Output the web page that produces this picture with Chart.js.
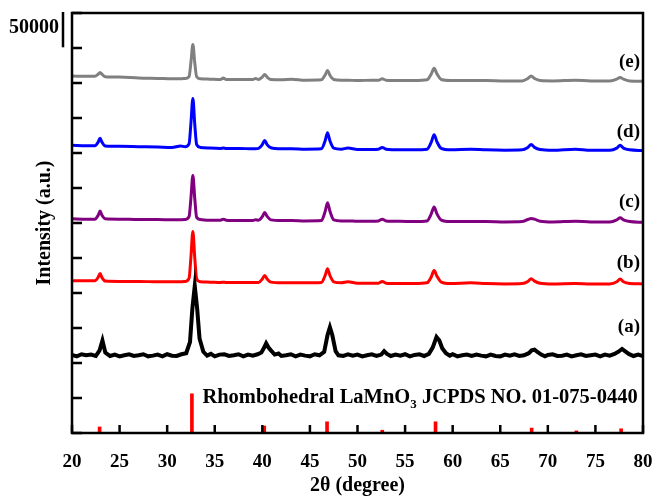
<!DOCTYPE html>
<html>
<head>
<meta charset="utf-8">
<title>XRD LaMnO3</title>
<script src="https://cdn.jsdelivr.net/npm/chart.js@4.4.1/dist/chart.umd.min.js"></script>
<style>
  html, body { margin: 0; padding: 0; background: #fff; }
  #wrap { width: 655px; height: 496px; }
</style>
</head>
<body>
<div id="wrap"><canvas id="xrd" width="655" height="496"></canvas></div>
<script>
// 2θ grid shared by the smooth patterns (b)-(e)
const xSmooth = [
  20, 21.5, 22.4, 22.75, 22.95, 23.15, 23.5, 25, 27, 29,
  30.5, 31.4, 31.9, 32.3, 32.5, 32.7, 32.9, 33.1, 33.5, 34.5,
  35.6, 35.9, 36.2, 37.5, 39.0, 39.3, 39.6, 40.0, 40.25, 40.5,
  40.9, 42.0, 43.1, 44.5, 46.2, 46.6, 46.85, 47.1, 47.5, 48.3,
  49.0, 50.0, 51.5, 52.2, 52.6, 53.0, 54.5, 56.0, 57.3, 57.75,
  58.05, 58.35, 58.8, 59.8, 61.9, 63.5, 65.5, 67.3, 67.9, 68.25,
  68.6, 69.2, 70.5, 72.9, 74.5, 76.5, 77.25, 77.6, 77.95, 78.6,
  80
];

// intensities in thousands of counts, already stacked
const sampleE = [
  510, 509.5, 509.5, 512.5, 515, 512.5, 509, 508.5, 507, 506.5,
  506, 506, 506.5, 509, 530, 555, 529, 509, 506, 505.5,
  505, 507, 505, 505, 505, 506.5, 505, 508.5, 512, 508.5,
  505, 504.5, 505.5, 504, 504.5, 511.5, 518, 511, 505, 504,
  504, 503.5, 504, 504, 506, 504, 503.5, 503.5, 504.5, 513,
  521, 513, 505, 503.5, 503.5, 503.5, 503, 503, 506.5, 510,
  506.5, 503.5, 503, 504, 503, 503, 505.5, 508, 505.5, 503,
  502.5
];
const sampleD = [
  411, 410.5, 410.5, 415.5, 421, 415.5, 410, 409.5, 409, 408.5,
  408, 410, 409, 413, 443, 478, 441, 412, 408, 407,
  406.5, 407, 406.5, 406.5, 406, 406, 406.5, 412, 418, 412,
  407.5, 406, 406, 405.5, 406, 417.5, 429, 417.5, 407, 405.5,
  407, 405, 405, 405.5, 408, 405.5, 404.5, 404.5, 405.5, 415.5,
  426, 416, 406.5, 404.5, 405.5, 404.5, 404, 404.5, 408, 412,
  408, 405, 404, 405.5, 404, 404, 407, 411, 407, 404.5,
  403.5
];
const sampleC = [
  306, 305.5, 305.5, 311, 317, 311, 306, 305.5, 305, 305,
  304.5, 304.5, 305, 309, 336, 368, 335, 308, 305, 304,
  304, 305.5, 304, 303.5, 303.5, 304.5, 304, 309, 315, 309.5,
  304.5, 303.5, 303.5, 303, 303.5, 316.5, 329, 317, 304.5, 303,
  303, 302.5, 302.5, 303, 305.5, 303, 302.5, 302, 303, 313,
  323, 313, 304, 302, 302, 302, 301.5, 302, 305, 306.5,
  305.5, 302.5, 301.5, 302.5, 301.5, 301.5, 304.5, 307.5, 304.5, 302,
  301
];
const sampleB = [
  217.5, 217.5, 217.5, 222.5, 228, 222, 217, 216.5, 216.5, 216,
  216, 216, 216.5, 221, 252, 288, 250, 220, 216, 215.5,
  215, 215.5, 215, 215, 215, 215, 215, 220, 225, 220,
  215.5, 214.5, 214.5, 214.5, 215, 225, 234.5, 225, 216, 214.5,
  216, 214, 214, 214, 216.5, 214, 213.5, 213.5, 214.5, 223,
  232, 224, 215.5, 213.5, 214.5, 213.5, 213, 213.5, 216.5, 220.5,
  217, 214, 213, 213.5, 213, 213, 216, 220, 216, 213.5,
  213
];

// pattern (a) is noisier, so it has its own denser grid
const xA = [
  20, 20.5, 21, 21.5, 22, 22.5, 22.9, 23.2, 23.5, 24,
  24.5, 25, 25.5, 26, 26.5, 27, 27.5, 28, 28.5, 29,
  29.5, 30, 30.5, 31, 31.5, 32, 32.4, 32.65, 32.9, 33.15,
  33.4, 33.8, 34.2, 34.6, 35, 35.5, 36, 36.5, 37, 37.5,
  38, 38.5, 39, 39.5, 39.9, 40.15, 40.4, 40.65, 40.9, 41.3,
  41.7, 42, 42.5, 43, 43.5, 44, 44.5, 45, 45.5, 46,
  46.5, 46.85, 47.1, 47.35, 47.7, 48, 48.5, 49, 49.5, 50,
  50.5, 51, 51.5, 52, 52.5, 52.8, 53.1, 53.5, 54, 54.5,
  55, 55.5, 56, 56.5, 57, 57.5, 57.9, 58.3, 58.6, 58.9,
  59.3, 59.7, 60, 60.5, 61, 61.5, 62, 62.5, 63, 63.5,
  64, 64.5, 65, 65.5, 66, 66.5, 67, 67.5, 68, 68.3,
  68.6, 68.9, 69.3, 69.7, 70, 70.5, 71, 71.5, 72, 72.5,
  73, 73.5, 74, 74.5, 75, 75.5, 76, 76.5, 77, 77.4,
  77.8, 78.1, 78.5, 79, 79.5, 80
];
const sampleA = [
  111.5, 109.5, 112.5, 111, 112, 110, 118, 132, 115, 110,
  112, 109.5, 111, 112.5, 110, 111, 112.5, 109.5, 110.5, 112,
  109.5, 112.5, 110.5, 110, 112.5, 114, 130, 178, 210, 178,
  135, 116, 110.5, 113, 109.5, 112, 112.5, 110, 111, 112.5,
  109.5, 112, 110.5, 112.5, 115, 121, 128, 122, 118, 112,
  113.5, 110, 111, 112.5, 109.5, 112, 110.5, 109.5, 112.5, 111,
  116, 140, 151, 140, 117, 111, 110, 112.5, 110.5, 112,
  109.5, 111, 112.5, 110, 112, 117, 113, 110, 112, 110.5,
  112.5, 109.5, 111.5, 112.5, 110, 113, 122, 137, 132, 121,
  114, 110.5, 112.5, 109.5, 111, 112, 110, 112, 110.5, 109.5,
  112, 110, 109.5, 112, 110.5, 112.5, 110, 111, 114, 118,
  119, 116, 112, 109.5, 111.5, 112.5, 110, 110.5, 112, 109.5,
  111, 112.5, 110, 111, 112, 109.5, 112, 110.5, 113, 116,
  120, 117, 113, 110, 112, 110
];

// JCPDS 01-075-0440 reference lines
const refPos = [22.9, 32.6, 40.2, 46.8, 52.6, 58.2, 68.3, 73.0, 77.7];
const refHeight = [8.6, 56, 10, 16, 4, 16, 7, 3, 6];

const curveLabels = ['(e)', '(d)', '(c)', '(b)', '(a)'];
const curveLabelY = [530, 430, 330, 243, 151];
const xTicks = [20, 25, 30, 35, 40, 45, 50, 55, 60, 65, 70, 75, 80];

const SERIF = '"Liberation Serif", "Times New Roman", serif';

function toPoints(xs, ys) {
  return xs.map((x, i) => ({ x: x, y: ys[i] }));
}

function lineSet(label, xs, ys, color, width, smooth) {
  return {
    type: 'line',
    label: label,
    data: toPoints(xs, ys),
    borderColor: color,
    borderWidth: width,
    pointRadius: 0,
    fill: false,
    cubicInterpolationMode: smooth ? 'monotone' : 'default',
    tension: 0
  };
}

// box, inward ticks and the texts inside the plot
const overlay = {
  id: 'overlay',
  afterDatasetsDraw(chart) {
    const { ctx, chartArea: a, scales: { x, y } } = chart;
    ctx.save();
    ctx.strokeStyle = '#000';
    ctx.lineWidth = 2.5;
    ctx.strokeRect(a.left, a.top, a.right - a.left, a.bottom - a.top);

    ctx.beginPath();
    x.ticks.forEach(t => {
      const px = x.getPixelForValue(t.value);
      ctx.moveTo(px, a.bottom);
      ctx.lineTo(px, a.bottom - 8);
    });
    y.ticks.forEach(t => {
      const py = y.getPixelForValue(t.value);
      ctx.moveTo(a.left, py);
      ctx.lineTo(a.left + 10, py);
    });
    ctx.stroke();

    // 50000 scale bar
    ctx.beginPath();
    ctx.moveTo(a.left - 9, y.getPixelForValue(600) - 1);
    ctx.lineTo(a.left - 9, y.getPixelForValue(551));
    ctx.stroke();

    ctx.fillStyle = '#000';
    ctx.font = 'bold 20px ' + SERIF;
    ctx.textAlign = 'right';
    ctx.textBaseline = 'middle';
    ctx.fillText('50000', a.left - 13, y.getPixelForValue(579));

    ctx.font = 'bold 19px ' + SERIF;
    curveLabels.forEach((t, i) => {
      ctx.fillText(t, a.right - 3, y.getPixelForValue(curveLabelY[i]));
    });

    // reference card caption with subscript
    ctx.font = 'bold 20.5px ' + SERIF;
    ctx.textAlign = 'left';
    ctx.textBaseline = 'alphabetic';
    let cx = x.getPixelForValue(33.7);
    const cy = y.getPixelForValue(43);
    const part1 = 'Rhombohedral LaMnO';
    ctx.fillText(part1, cx, cy);
    cx += ctx.measureText(part1).width;
    ctx.font = 'bold 13px ' + SERIF;
    ctx.fillText('3', cx, cy + 5);
    cx += ctx.measureText('3').width;
    ctx.font = 'bold 20.5px ' + SERIF;
    ctx.fillText(' JCPDS NO. 01-075-0440', cx, cy);

    // axis titles
    ctx.font = 'bold 20px ' + SERIF;
    ctx.textAlign = 'center';
    ctx.textBaseline = 'middle';
    ctx.fillText('2θ (degree)', (a.left + a.right) / 2, 486);
    ctx.translate(45, (a.top + a.bottom) / 2);
    ctx.rotate(-Math.PI / 2);
    ctx.fillText('Intensity (a.u.)', 0, 0);
    ctx.restore();
  }
};

new Chart(document.getElementById('xrd'), {
  data: {
    datasets: [
      {
        type: 'bar',
        label: 'JCPDS',
        data: toPoints(refPos, refHeight),
        backgroundColor: '#ff0000',
        barThickness: 3
      },
      lineSet('(a)', xA, sampleA, '#000000', 4, false),
      lineSet('(b)', xSmooth, sampleB, '#ff0000', 3, true),
      lineSet('(c)', xSmooth, sampleC, '#800080', 3, true),
      lineSet('(d)', xSmooth, sampleD, '#0000ff', 3, true),
      lineSet('(e)', xSmooth, sampleE, '#808080', 3, true)
    ]
  },
  options: {
    responsive: false,
    devicePixelRatio: 1,
    animation: false,
    layout: { padding: { top: 13, right: 12, left: 0, bottom: 0 } },
    plugins: { legend: { display: false }, tooltip: { enabled: false } },
    scales: {
      x: {
        type: 'linear',
        offset: false,
        min: 20,
        max: 80,
        afterBuildTicks: s => { s.ticks = xTicks.map(v => ({ value: v })); },
        afterFit: s => { s.height = 63; s.paddingLeft = 0; s.paddingRight = 0; },
        grid: { display: false, offset: false },
        border: { display: false },
        ticks: {
          padding: 10,
          color: '#000',
          font: { family: SERIF, size: 19, weight: 'bold' }
        }
      },
      y: {
        type: 'linear',
        min: 0,
        max: 600,
        afterFit: s => { s.width = 72; },
        grid: { display: false },
        border: { display: false },
        ticks: { stepSize: 50, display: false }
      }
    }
  },
  plugins: [overlay]
});
</script>
</body>
</html>
